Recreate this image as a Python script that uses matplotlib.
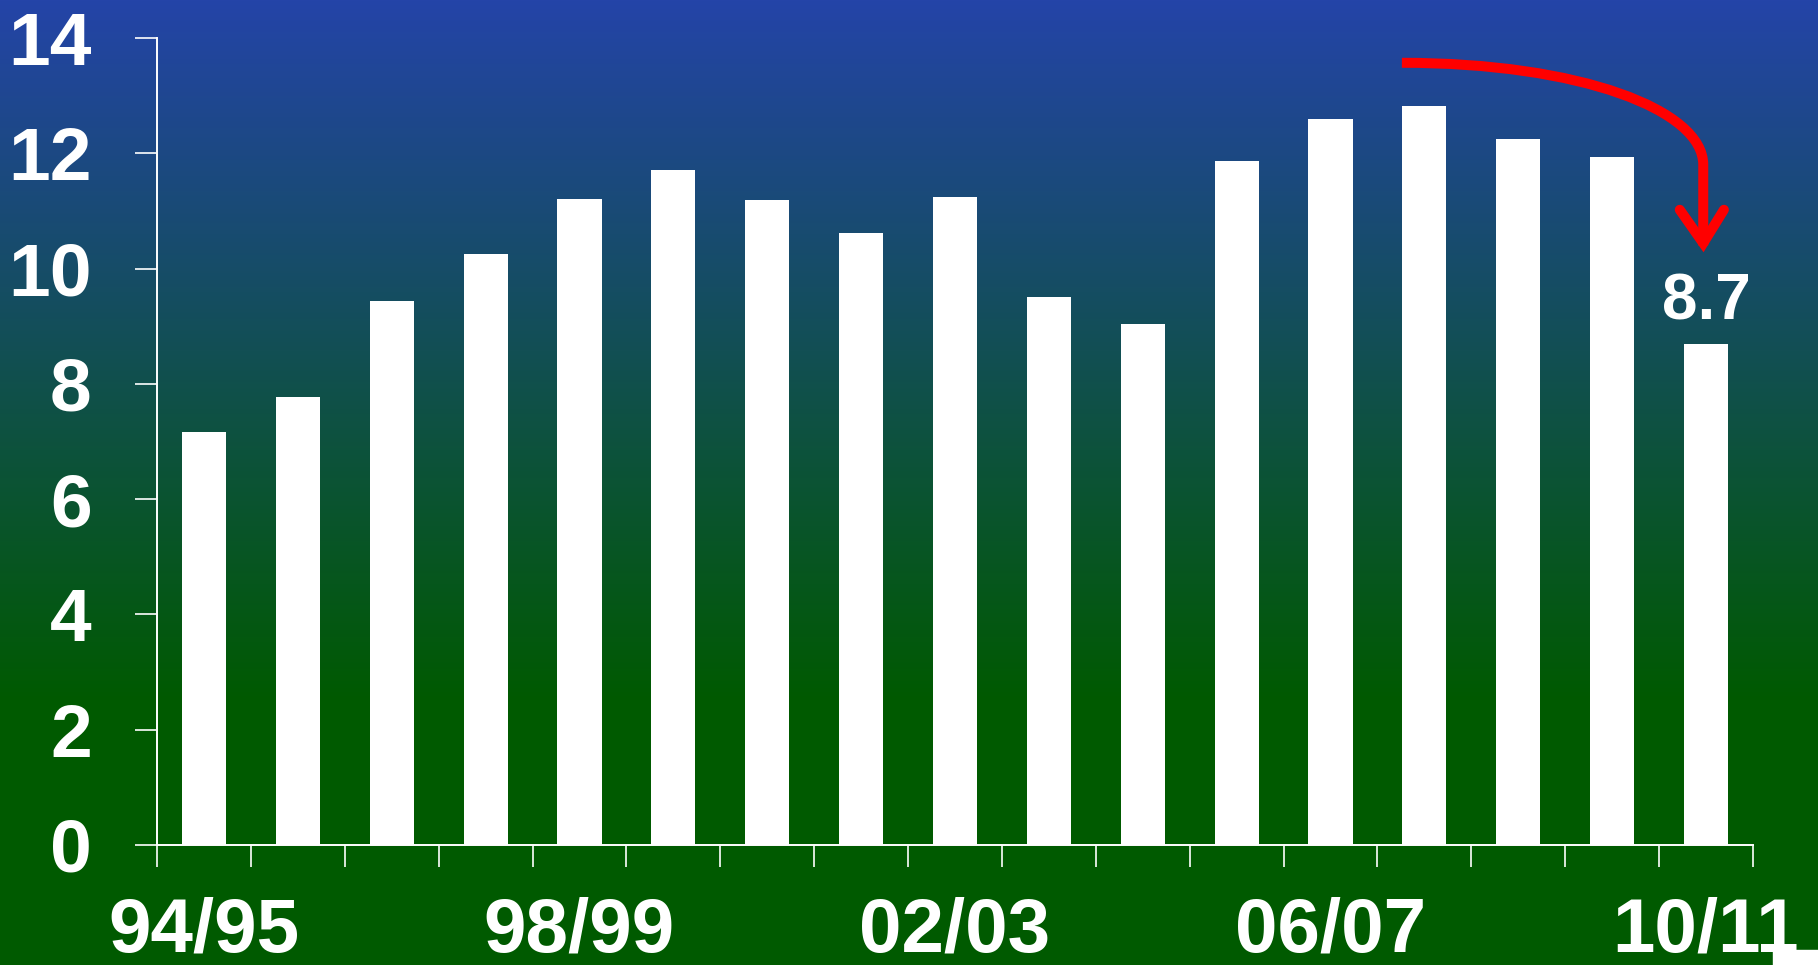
import numpy as np
import matplotlib
matplotlib.use("Agg")
import matplotlib.pyplot as plt
from matplotlib.path import Path
from matplotlib.patches import PathPatch, Rectangle

# ---- data ----
years = ["94/95", "95/96", "96/97", "97/98", "98/99", "99/00", "00/01", "01/02",
         "02/03", "03/04", "04/05", "05/06", "06/07", "07/08", "08/09", "09/10", "10/11"]
values = [7.17, 7.77, 9.44, 10.25, 11.21, 11.71, 11.19, 10.61, 11.24,
          9.50, 9.03, 11.87, 12.60, 12.82, 12.25, 11.93, 8.70]
label_idx = [0, 4, 8, 12, 16]
yticks = [0, 2, 4, 6, 8, 10, 12, 14]
last_label = "8.7"

plt.rcParams['font.family'] = ['Liberation Sans', 'DejaVu Sans']
plt.rcParams['font.weight'] = 'bold'

W, H = 1818, 965
fig = plt.figure(figsize=(W / 100, H / 100), dpi=100)

# ---- gradient background ----
bg = fig.add_axes([0, 0, 1, 1], zorder=0)
rows = np.arange(H)
top = np.array([36, 68, 168]) / 255.0
bot = np.array([0, 90, 0]) / 255.0
t = np.clip(rows / 700.0, 0, 1)[:, None]
grad = (1 - t) * top + t * bot
bg.imshow(grad[:, None, :], aspect='auto', extent=[0, 1, 0, 1], origin='upper')
bg.set_axis_off()

# ---- main axes ----
ax = fig.add_axes([157 / W, 1 - 845 / H, (1753 - 157) / W, (845 - 38) / H], zorder=1)
ax.patch.set_alpha(0)
x = np.arange(len(values))
ax.bar(x, values, width=0.47, color='white', edgecolor='none', zorder=2)
ax.set_xlim(-0.5, len(values) - 0.5)
ax.set_ylim(0, 14)

for s in ['top', 'right']:
    ax.spines[s].set_visible(False)
for s in ['left', 'bottom']:
    ax.spines[s].set_color('white')
    ax.spines[s].set_linewidth(1.4)

ax.set_yticks(yticks)
ax.set_yticklabels([str(v) for v in yticks])
ax.tick_params(axis='y', colors='white', length=16, width=1.2, direction='out',
               labelsize=54, pad=31)
for lab in ax.get_yticklabels():
    lab.set_fontweight('bold')

ax.set_xticks(np.arange(-0.5, len(values), 1.0))
ax.set_xticklabels([])
ax.tick_params(axis='x', which='major', colors='white', length=16, width=1.2, direction='out')
ax.set_xticks([x[i] for i in label_idx], minor=True)
ax.set_xticklabels([years[i] for i in label_idx], minor=True)
ax.tick_params(axis='x', which='minor', length=0, labelsize=55, pad=37, labelcolor='white')
for lab in ax.get_xticklabels(minor=True):
    lab.set_fontweight('bold')

# value label for the last bar
ax.annotate(last_label, xy=(x[-1], values[-1]), xytext=(0, 17), textcoords='offset points',
            ha='center', va='baseline', fontsize=46, fontweight='bold', color='white',
            zorder=3)

# ---- red curved arrow ----
verts = [(12.76, 13.57), (14.66, 13.57), (15.97, 12.75), (15.97, 11.80), (15.97, 10.40)]
codes = [Path.MOVETO, Path.CURVE4, Path.CURVE4, Path.CURVE4, Path.LINETO]
shaft = PathPatch(Path(verts, codes), facecolor='none', edgecolor='#ff0000', lw=7.2,
                  capstyle='butt', joinstyle='round', zorder=4, clip_on=False)
ax.add_patch(shaft)
head = [(15.72, 11.02), (15.97, 10.44), (16.19, 11.02)]
ax.plot([p[0] for p in head], [p[1] for p in head], color='#ff0000', lw=7.2,
        solid_capstyle='round', solid_joinstyle='miter', zorder=4, clip_on=False)

# small white corner block
fig.patches.append(Rectangle((1773 / W, 0), (W - 1773) / W, 15 / H,
                             transform=fig.transFigure, color='white', zorder=5))

fig.savefig('out.png', dpi=100)
